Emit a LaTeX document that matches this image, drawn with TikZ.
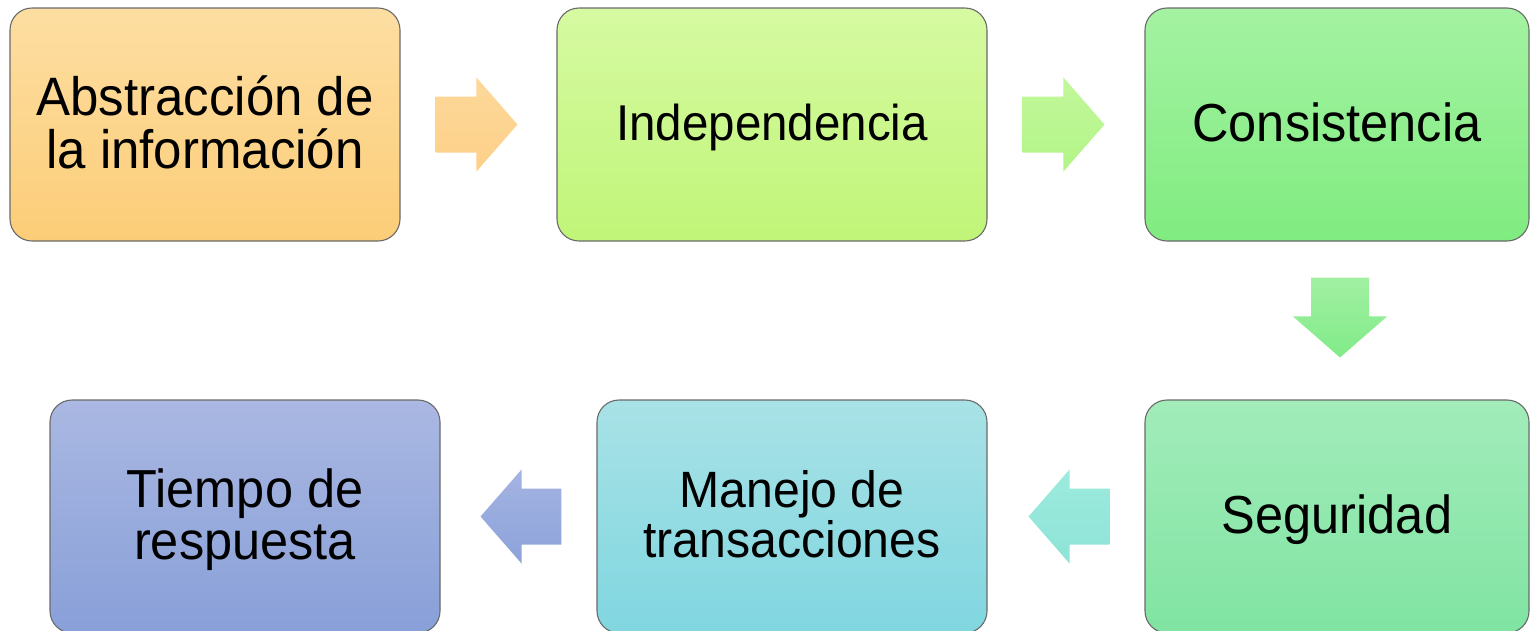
\documentclass[tikz,border=0pt]{standalone}
\usepackage{fontspec}
\setmainfont{Liberation Sans}
\usetikzlibrary{calc}
\definecolor{o1}{HTML}{FDDEA2}\definecolor{o2}{HTML}{FCCD78}
\definecolor{g1}{HTML}{D6FAA2}\definecolor{g2}{HTML}{C0F578}
\definecolor{c1}{HTML}{A4F2A2}\definecolor{c2}{HTML}{80EC80}
\definecolor{s1}{HTML}{A2ECBA}\definecolor{s2}{HTML}{80E4A2}
\definecolor{m1}{HTML}{A8E2E6}\definecolor{m2}{HTML}{80D6E0}
\definecolor{t1}{HTML}{AAB8E2}\definecolor{t2}{HTML}{889FD8}
\definecolor{edge}{HTML}{6A6A6A}
\definecolor{ar1a}{HTML}{FDD89A}\definecolor{ar1b}{HTML}{FDD088}
\definecolor{ar2a}{HTML}{C2F79A}\definecolor{ar2b}{HTML}{B2F588}
\definecolor{ar3a}{HTML}{A2F0A2}\definecolor{ar3b}{HTML}{80EB88}
\definecolor{ar4a}{HTML}{9CEADE}\definecolor{ar4b}{HTML}{8EE4D6}
\definecolor{ar5a}{HTML}{A4B4E2}\definecolor{ar5b}{HTML}{8CA2DA}
\newcommand{\st}[3]{\raisebox{-5pt}[\height][\depth]{\scalebox{1}[1.06]{\fontsize{#1}{#2}\selectfont\begin{tabular}{@{}c@{}}#3\end{tabular}}}}
\newcommand{\myarrR}[3]{\shade[#3] let \p1=(#1), \p2=(#2) in
  (\x1,{\y1+28pt}) -- ({\x2-41pt},{\y1+28pt}) -- ({\x2-41pt},{\y1+47pt}) -- (\x2,\y1)
  -- ({\x2-41pt},{\y1-47pt}) -- ({\x2-41pt},{\y1-28pt}) -- (\x1,{\y1-28pt}) -- cycle;}
\newcommand{\myarrL}[3]{\shade[#3] let \p1=(#1), \p2=(#2) in
  (\x1,{\y1+28pt}) -- ({\x2+41pt},{\y1+28pt}) -- ({\x2+41pt},{\y1+47pt}) -- (\x2,\y1)
  -- ({\x2+41pt},{\y1-47pt}) -- ({\x2+41pt},{\y1-28pt}) -- (\x1,{\y1-28pt}) -- cycle;}
\newcommand{\myarrD}[3]{\shade[#3] let \p1=(#1), \p2=(#2) in
  ({\x1-29pt},\y1) -- ({\x1-29pt},{\y2+41pt}) -- ({\x1-47pt},{\y2+41pt}) -- (\x1,\y2)
  -- ({\x1+47pt},{\y2+41pt}) -- ({\x1+29pt},{\y2+41pt}) -- ({\x1+29pt},\y1) -- cycle;}
\begin{document}
\begin{tikzpicture}[x=1pt,y=-1pt,
  box/.style={draw=edge, line width=1.1pt, rounded corners=22pt, inner sep=0pt,
    minimum height=233pt, align=center, text=black}]
\useasboundingbox (0,0) rectangle (1530,630);
\clip (0,0) rectangle (1530,630);
\fill[white] (0,0) rectangle (1530,630);
\node[box, minimum width=390pt, top color=o1, bottom color=o2] (b1) at (205,124.5) {\st{51}{48.5}{Abstracción de\\[-2pt]la información}};
\node[box, minimum width=430pt, top color=g1, bottom color=g2] (b2) at (772,124.5) {\st{47.5}{48}{Independencia}};
\node[box, minimum width=384pt, top color=c1, bottom color=c2] (b3) at (1337,124.5) {\st{50.5}{48}{Consistencia}};
\node[box, minimum width=384pt, top color=s1, bottom color=s2] (b4) at (1337,516.5) {\st{50.5}{48}{Seguridad}};
\node[box, minimum width=390pt, top color=m1, bottom color=m2] (b5) at (792,516.5) {\st{48.2}{47.5}{Manejo de\\[-2pt]transacciones}};
\node[box, minimum width=390pt, top color=t1, bottom color=t2] (b6) at (245,516.5) {\st{50.5}{49}{Tiempo de\\respuesta}};
\coordinate (a1s) at ($(b1.east)+(35,0)$);
\coordinate (a1e) at ($(b2.west)+(-39,0)$);
\coordinate (a2s) at ($(b2.east)+(35,0)$);
\coordinate (a2e) at ($(b3.west)+(-40,0)$);
\coordinate (a3s) at ($(b3.south)+(3,36)$);
\coordinate (a3e) at ($(b4.north)+(3,-42)$);
\coordinate (a4s) at ($(b4.west)+(-35,0)$);
\coordinate (a4e) at ($(b5.east)+(41,0)$);
\coordinate (a5s) at ($(b5.west)+(-35,0)$);
\coordinate (a5e) at ($(b6.east)+(40,0)$);
\myarrR{a1s}{a1e}{top color=ar1a, bottom color=ar1b}
\myarrR{a2s}{a2e}{top color=ar2a, bottom color=ar2b}
\myarrD{a3s}{a3e}{top color=ar3a, bottom color=ar3b}
\myarrL{a4s}{a4e}{top color=ar4a, bottom color=ar4b}
\myarrL{a5s}{a5e}{top color=ar5a, bottom color=ar5b}
\end{tikzpicture}
\end{document}
